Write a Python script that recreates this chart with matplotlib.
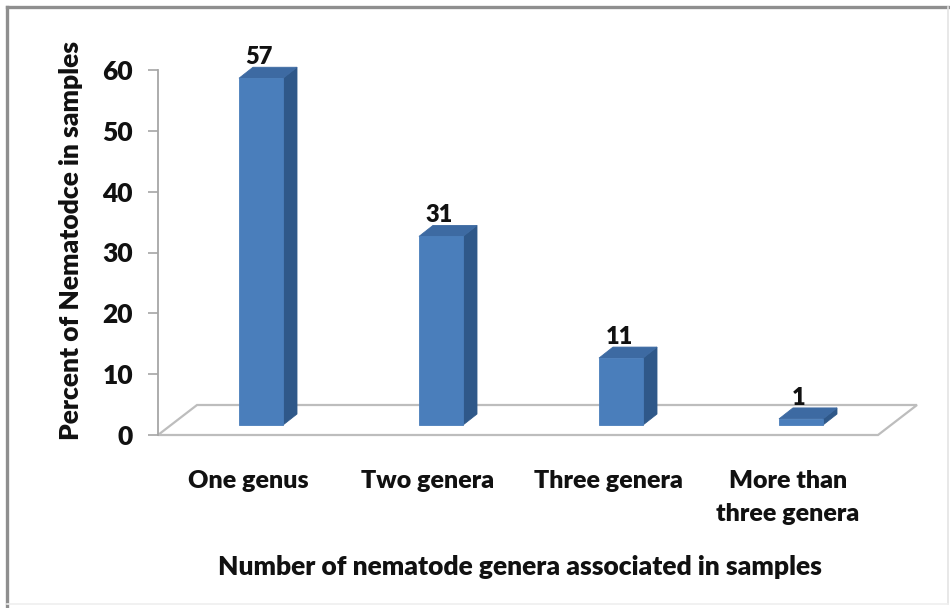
import matplotlib
matplotlib.use("Agg")
import matplotlib.pyplot as plt
from matplotlib.patches import Polygon
from matplotlib.lines import Line2D
import matplotlib.transforms as mtransforms

# Data
categories = ["One genus", "Two genera", "Three genera", "More than\nthree genera"]
percent = [57, 31, 11, 1]
y_ticks = [0, 10, 20, 30, 40, 50, 60]

FONT = "Lato"
WEIGHT = "heavy"
TEXT = "#111111"
AXIS_GREY = "#a6a6a6"
FRONT = "#4a7ebb"
SIDE = "#2f5889"
TOP = "#3d6aa2"

W, H = 950, 608
fig = plt.figure(figsize=(W / 100, H / 100), dpi=100)
ax = fig.add_axes([158 / W, 173 / H, 720 / W, 365 / H])
ax.set_xlim(-0.5, len(categories) - 0.5)
ax.set_ylim(0, 60)

ident = mtransforms.IdentityTransform()


def disp(x, y, dx=0.0, dy=0.0):
    px, py = ax.transData.transform((x, y))
    return (px + dx, py + dy)


# 3-D floor (depth offset in pixels)
floor_d = (39, 30)
x_lo, x_hi = ax.get_xlim()
floor = [disp(x_lo, 0), disp(x_hi, 0), disp(x_hi, 0, *floor_d), disp(x_lo, 0, *floor_d)]
ax.add_patch(Polygon(floor, closed=True, facecolor="white", edgecolor="#bdbdbd",
                     lw=1.6, transform=ident, clip_on=False, zorder=1))

# 3-D bars: front plane at 1/3 depth, back plane at 2/3 depth
front_d = (13, 10)
back_d = (27, 21)
half_w = 22  # pixels

for i, v in enumerate(percent):
    cx, y0 = ax.transData.transform((i, 0))
    _, y1 = ax.transData.transform((i, v))
    x0, x1 = cx - half_w, cx + half_w
    f = front_d
    b = back_d
    front = [(x0 + f[0], y0 + f[1]), (x1 + f[0], y0 + f[1]),
             (x1 + f[0], y1 + f[1]), (x0 + f[0], y1 + f[1])]
    side = [(x1 + f[0], y0 + f[1]), (x1 + b[0], y0 + b[1]),
            (x1 + b[0], y1 + b[1]), (x1 + f[0], y1 + f[1])]
    top = [(x0 + f[0], y1 + f[1]), (x1 + f[0], y1 + f[1]),
           (x1 + b[0], y1 + b[1]), (x0 + b[0], y1 + b[1])]
    for poly, col in ((side, SIDE), (top, TOP), (front, FRONT)):
        ax.add_patch(Polygon(poly, closed=True, facecolor=col, edgecolor=col,
                             lw=0.6, transform=ident, clip_on=False, zorder=3))
    ax.text(cx + f[0] - 2, y1 + f[1] + 14, str(v), transform=ident,
            ha="center", va="baseline", fontsize=17, fontweight=WEIGHT,
            family=FONT, color=TEXT, zorder=5)

# Axes styling
for s in ("top", "right", "bottom"):
    ax.spines[s].set_visible(False)
ax.spines["left"].set_color(AXIS_GREY)
ax.spines["left"].set_linewidth(1.3)
ax.patch.set_alpha(0)

ax.set_yticks(y_ticks)
ax.set_yticklabels([str(t) for t in y_ticks], fontsize=19, fontweight=WEIGHT,
                   family=FONT, color=TEXT)
ax.tick_params(axis="y", direction="out", length=7, width=1.2, color=AXIS_GREY, pad=11)

ax.set_xticks(range(len(categories)))
ax.set_xticklabels(categories, fontsize=18, fontweight=WEIGHT, family=FONT,
                   color=TEXT, linespacing=1.65)
ax.tick_params(axis="x", length=0, pad=25)

fig.text(71 / W, 1 - 240 / H, "Percent of Nematodce in samples", rotation=90,
         ha="center", va="center", fontsize=19, fontweight=WEIGHT,
         family=FONT, color=TEXT)
fig.text(520 / W, 1 - 567 / H, "Number of nematode genera associated in samples",
         ha="center", va="center", fontsize=19, fontweight=WEIGHT,
         family=FONT, color=TEXT)

# Outer frame
fig.add_artist(Line2D([7 / W, 7 / W], [0, 1 - 7 / H], color="#8f8f8f", lw=2.4))
fig.add_artist(Line2D([7 / W, 1], [1 - 7 / H, 1 - 7 / H], color="#8f8f8f", lw=2.4))
fig.add_artist(Line2D([948 / W, 948 / W], [4 / H, 1 - 7 / H], color="#e4e4e4", lw=1.2))
fig.add_artist(Line2D([7 / W, 948 / W], [4 / H, 4 / H], color="#efefef", lw=1.2))

fig.savefig("out.png", dpi=100)
